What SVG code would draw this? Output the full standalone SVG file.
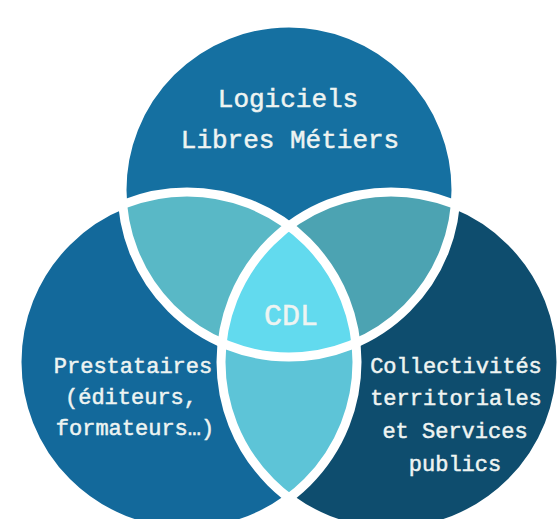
<svg xmlns="http://www.w3.org/2000/svg" width="560" height="519" viewBox="0 0 560 519">
<style>
.lbl{font-family:"Courier New","Liberation Mono","DejaVu Sans Mono",monospace;fill:#eef4f2;stroke:#eef4f2;stroke-width:0.5;text-anchor:middle}
.big{font-size:26px}
.mid{font-size:22px}
.cdl{font-size:30px}
.ring{fill:none;stroke:#ffffff;stroke-width:9}
</style>
<defs>
<clipPath id="clipT"><circle cx="289" cy="190" r="167"/></clipPath>
<clipPath id="clipL"><circle cx="187" cy="362" r="170"/></clipPath>
<clipPath id="clipR"><circle cx="391" cy="362" r="170"/></clipPath>
</defs>
<rect width="560" height="519" fill="#ffffff"/>
<g id="circle-left"><circle cx="187" cy="362" r="170" fill="#13699b"/></g>
<g id="circle-right"><circle cx="391" cy="362" r="170" fill="#0e4d6e"/></g>
<g id="circle-top"><circle cx="289" cy="190" r="167" fill="#1570a1"/></g>
<g id="lens-top-left" clip-path="url(#clipT)"><circle cx="187" cy="362" r="170" fill="#59b8c6"/></g>
<g id="lens-top-right" clip-path="url(#clipT)"><circle cx="391" cy="362" r="170" fill="#4ca3b2"/></g>
<g id="lens-bottom" clip-path="url(#clipL)"><circle cx="391" cy="362" r="170" fill="#5dc4d7"/></g>
<g id="center-cdl" clip-path="url(#clipT)"><g clip-path="url(#clipL)"><circle cx="391" cy="362" r="170" fill="#62daee"/></g></g>
<g id="outlines">
<circle class="ring" cx="187" cy="362" r="170"/>
<circle class="ring" cx="391" cy="362" r="170"/>
<circle class="ring" cx="289" cy="190" r="167"/>
</g>
<g id="label-top">
<text class="lbl big" x="288" y="107">Logiciels</text>
<text class="lbl big" x="290" y="148">Libres Métiers</text>
</g>
<g id="label-cdl"><text class="lbl cdl" x="291" y="325">CDL</text></g>
<g id="label-left">
<text class="lbl mid" x="133" y="373">Prestataires</text>
<text class="lbl mid" x="131" y="404">(éditeurs,</text>
<text class="lbl mid" x="135" y="435">formateurs…)</text>
</g>
<g id="label-right">
<text class="lbl mid" x="456" y="373">Collectivités</text>
<text class="lbl mid" x="456" y="405">territoriales</text>
<text class="lbl mid" x="455" y="438">et Services</text>
<text class="lbl mid" x="455" y="471">publics</text>
</g>
</svg>
